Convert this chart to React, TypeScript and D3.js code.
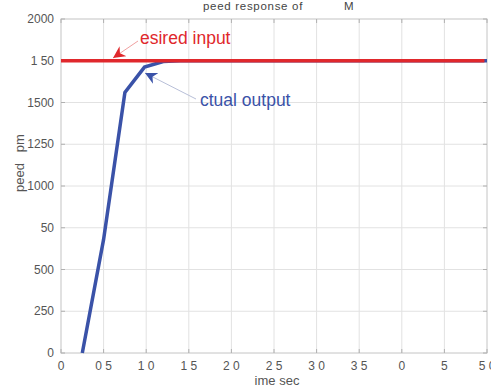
import React, { useEffect, useRef } from 'react';
import * as d3 from 'd3';

// values
const xTickValues = [0, 0.5, 1, 1.5, 2, 2.5, 3, 3.5, 4, 4.5, 5];
const xTickLabels = ['0', '0 5', '1 0', '1 5', '2 0', '2 5', '3 0', '3 5', '0', '5', '5 0'];
const yTickValues = [0, 250, 500, 750, 1000, 1250, 1500, 1750, 2000];
const yTickLabels = ['0', '250', '500', '50', '1000', '1250', '1500', '1 50', '2000'];

const actualTime = [0.25, 0.5, 0.75, 0.98, 1.2, 1.4, 5.0];
const actualSpeed = [0, 680, 1560, 1712, 1745, 1750, 1750];
const desiredTime = [0, 4.97];
const desiredSpeed = [1750, 1750];

export default function App() {
    const chartRef = useRef<SVGSVGElement | null>(null);

    useEffect(() => {
        if (!chartRef.current) return;
        const svg = d3.select(chartRef.current);
        svg.selectAll('*').remove();

        const font = '"Liberation Sans", Arial, sans-serif';
        const left = 61, right = 487, top = 19, bottom = 353;

        const x = d3.scaleLinear().domain([0, 5]).range([left, right]);
        const y = d3.scaleLinear().domain([0, 2000]).range([bottom, top]);

        svg.append('rect').attr('width', 491).attr('height', 391).attr('fill', '#fff');

        // grid
        const grid = svg.append('g').attr('stroke', '#e2e2e2').attr('stroke-width', 1);
        xTickValues.slice(1, -1).forEach(v => {
            grid.append('line').attr('x1', x(v)).attr('x2', x(v)).attr('y1', top).attr('y2', bottom);
        });
        yTickValues.slice(1, -1).forEach(v => {
            grid.append('line').attr('x1', left).attr('x2', right).attr('y1', y(v)).attr('y2', y(v));
        });

        // frame
        svg.append('rect').attr('x', left).attr('y', top)
            .attr('width', right - left).attr('height', bottom - top)
            .attr('fill', 'none').attr('stroke', '#c4c4c4').attr('stroke-width', 1);

        // ticks (inside, matlab style)
        const ticks = svg.append('g').attr('stroke', '#b0b0b0');
        xTickValues.forEach(v => {
            ticks.append('line').attr('x1', x(v)).attr('x2', x(v)).attr('y1', bottom).attr('y2', bottom - 4);
            ticks.append('line').attr('x1', x(v)).attr('x2', x(v)).attr('y1', top).attr('y2', top + 4);
        });
        yTickValues.forEach(v => {
            ticks.append('line').attr('x1', left).attr('x2', left + 4).attr('y1', y(v)).attr('y2', y(v));
            ticks.append('line').attr('x1', right).attr('x2', right - 4).attr('y1', y(v)).attr('y2', y(v));
        });

        // tick labels
        xTickValues.forEach((v, i) => {
            svg.append('text').attr('x', x(v)).attr('y', 370)
                .attr('text-anchor', 'middle').attr('font-family', font).attr('font-size', 12)
                .attr('fill', '#555').style('white-space', 'pre').text(xTickLabels[i]);
        });
        yTickValues.forEach((v, i) => {
            svg.append('text').attr('x', 54).attr('y', y(v) + 4)
                .attr('text-anchor', 'end').attr('font-family', font).attr('font-size', 12)
                .attr('fill', '#555').style('white-space', 'pre').text(yTickLabels[i]);
        });

        // title and axis labels
        svg.append('text').attr('x', 203).attr('y', 10).attr('font-family', font).attr('font-size', 11.5)
            .attr('letter-spacing', 0.7).attr('fill', '#444').text('peed response of');
        svg.append('text').attr('x', 344).attr('y', 10).attr('font-family', font).attr('font-size', 11.5)
            .attr('fill', '#444').text('M');
        svg.append('text').attr('x', 277).attr('y', 385).attr('text-anchor', 'middle')
            .attr('font-family', font).attr('font-size', 13).attr('fill', '#555').text('ime sec');
        svg.append('text').attr('transform', 'translate(24,163) rotate(-90)').attr('text-anchor', 'middle')
            .attr('font-family', font).attr('font-size', 13).attr('fill', '#555')
            .style('white-space', 'pre').text('peed   pm');

        // actual output
        const actualLine = d3.line<number>()
            .x((_, i) => x(actualTime[i]))
            .y(d => y(d));
        svg.append('path').datum(actualSpeed)
            .attr('d', actualLine)
            .attr('fill', 'none').attr('stroke', '#3a52a8').attr('stroke-width', 3.5)
            .attr('stroke-linejoin', 'miter');

        // desired input
        const desiredLine = d3.line<number>()
            .x((_, i) => x(desiredTime[i]))
            .y(d => y(d));
        svg.append('path').datum(desiredSpeed)
            .attr('d', desiredLine)
            .attr('fill', 'none').attr('stroke', '#e0282c').attr('stroke-width', 3.5);

        // annotations
        const defs = svg.append('defs');
        const marker = (id: string, color: string) => {
            defs.append('marker').attr('id', id).attr('viewBox', '0 0 10 10')
                .attr('refX', 10).attr('refY', 5).attr('markerWidth', 12).attr('markerHeight', 12)
                .attr('markerUnits', 'userSpaceOnUse').attr('orient', 'auto')
                .append('path').attr('d', 'M0,0 L10,5 L0,10 L3,5 Z').attr('fill', color);
        };
        marker('arrRed', '#e0282c');
        marker('arrBlue', '#3a52a8');

        svg.append('line').attr('x1', 138).attr('y1', 41).attr('x2', 113).attr('y2', 58)
            .attr('stroke', '#f0a0a0').attr('stroke-width', 1).attr('marker-end', 'url(#arrRed)');
        svg.append('text').attr('x', 140).attr('y', 44).attr('font-family', font).attr('font-size', 17.5)
            .attr('fill', '#e0282c').text('esired input');

        svg.append('line').attr('x1', 196).attr('y1', 99).attr('x2', 145).attr('y2', 73)
            .attr('stroke', '#b8bfd8').attr('stroke-width', 1).attr('marker-end', 'url(#arrBlue)');
        svg.append('text').attr('x', 200).attr('y', 106).attr('font-family', font).attr('font-size', 17.5)
            .attr('fill', '#3a52a8').text('ctual output');
    }, []);

    return (
        <div style={{ position: 'absolute', left: 0, top: 0 }}>
            <svg ref={chartRef} width={491} height={391} style={{ display: 'block' }} />
        </div>
    );
}
